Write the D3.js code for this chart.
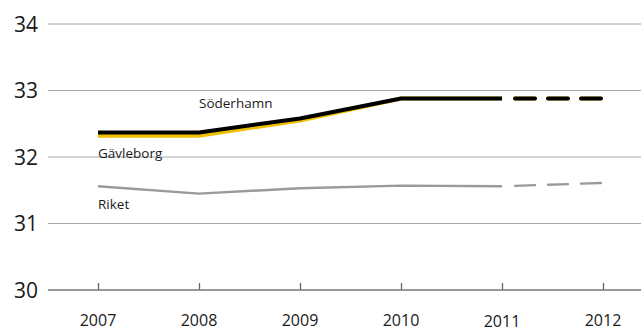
<!DOCTYPE html>
<html>
<head>
<meta charset="utf-8">
<script src="https://cdn.jsdelivr.net/npm/d3@7"></script>
<style>
  body { margin: 0; background: #fff; }
  text { font-family: "Open Sans", sans-serif; fill: #1a1a1a; }
</style>
</head>
<body>
<svg id="chart" width="641" height="332"></svg>
<script>
// data
const years = [2007, 2008, 2009, 2010, 2011, 2012];
const soderhamn = [32.37, 32.37, 32.58, 32.88, 32.88, 32.88];
const gavleborg = [32.32, 32.32, 32.55, 32.88, 32.88, 32.88];
const riket = [31.56, 31.45, 31.53, 31.57, 31.56, 31.61];
const yTicks = [30, 31, 32, 33, 34];
const solidUntil = 2011; // after this the lines are dashed (forecast)

const svg = d3.select("#chart");
const width = 641, height = 332;

const x = d3.scaleLinear().domain([2007, 2012]).range([98, 603]);
const y = d3.scaleLinear().domain([30, 34]).range([290, 24]);

// gridlines
svg.append("g")
  .selectAll("line")
  .data(yTicks.filter(d => d > 30))
  .join("line")
    .attr("x1", 48).attr("x2", width)
    .attr("y1", d => y(d)).attr("y2", d => y(d))
    .attr("stroke", "#a6a6a6")
    .attr("stroke-width", 1);

// bottom axis with little ticks pointing up
const xAxis = d3.axisBottom(x).tickValues(years).tickSize(-7).tickFormat("");
const xg = svg.append("g")
  .attr("transform", `translate(0,${y(30)})`)
  .call(xAxis);
xg.select(".domain").remove();
xg.selectAll(".tick line").attr("stroke", "#666").attr("stroke-width", 1.3);
xg.append("line")
  .attr("x1", 48).attr("x2", width)
  .attr("stroke", "#777").attr("stroke-width", 1.3);

// year labels
svg.append("g")
  .selectAll("text")
  .data(years)
  .join("text")
    .attr("x", d => x(d))
    .attr("y", d => d === 2011 ? 327 : 326)
    .attr("text-anchor", "middle")
    .style("font-size", "16px")
    .text(d => d);

// y labels
svg.append("g")
  .selectAll("text")
  .data(yTicks)
  .join("text")
    .attr("x", 26)
    .attr("y", d => y(d))
    .attr("dy", "0.36em")
    .attr("text-anchor", "middle")
    .style("font-size", "21px")
    .text(d => d);

const line = d3.line()
  .x(d => x(d[0]))
  .y(d => y(d[1]));

function drawSeries(values, color, w) {
  const pts = years.map((yr, i) => [yr, values[i]]);
  const solid = pts.filter(p => p[0] <= solidUntil);
  const dashed = pts.filter(p => p[0] >= solidUntil);
  svg.append("path")
    .attr("d", line(solid))
    .attr("fill", "none")
    .attr("stroke", color)
    .attr("stroke-width", w)
    .attr("stroke-linejoin", "round");
  svg.append("path")
    .attr("d", line(dashed))
    .attr("fill", "none")
    .attr("stroke", color)
    .attr("stroke-width", w)
    .attr("stroke-dasharray", "20 13")
    .attr("stroke-dashoffset", 20)
    .attr("stroke-linecap", "round");
}

drawSeries(riket, "#9a9a9a", 2.4);
drawSeries(gavleborg, "#f0c000", 4);
drawSeries(soderhamn, "#000", 4);

// series labels
const labels = [
  {name: "Söderhamn", year: 2008, value: soderhamn[1]},
  {name: "Gävleborg", year: 2007, value: gavleborg[0]},
  {name: "Riket", year: 2007, value: riket[0]}
];
const labelOffsets = {"Söderhamn": -24, "Gävleborg": 22, "Riket": 23};
svg.append("g")
  .selectAll("text")
  .data(labels)
  .join("text")
    .attr("x", d => x(d.year))
    .attr("y", d => y(d.value) + labelOffsets[d.name])
    .style("font-size", "13.5px")
    .text(d => d.name);
</script>
</body>
</html>
